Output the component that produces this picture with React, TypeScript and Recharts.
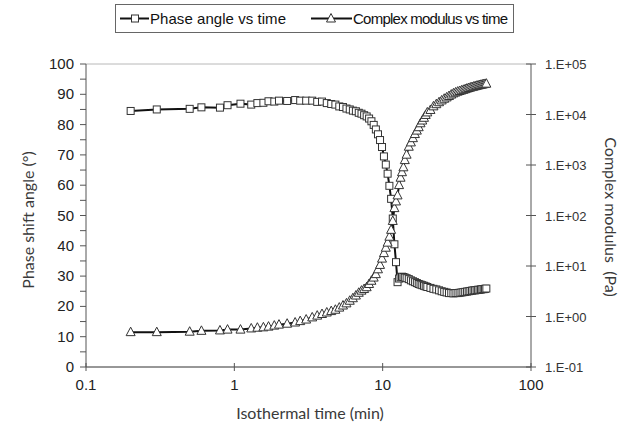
import { ComposedChart, Line, XAxis, YAxis, CartesianGrid } from 'recharts';

// isothermal time (min)
const timeMin = [
  0.2, 0.3, 0.5, 0.6, 0.8, 0.9, 1.1, 1.3, 1.43, 1.57, 1.7, 1.86, 2.0, 2.27, 2.57, 2.78, 3.05, 3.35, 3.62,
  3.9, 4.2, 4.5, 4.8, 5.1, 5.4, 5.7, 6.0, 6.3, 6.6, 6.9, 7.2, 7.5, 7.8, 8.1, 8.4, 8.7, 9.0, 9.3, 9.6,
  9.9, 10.2, 10.5, 10.8, 11.1, 11.4, 11.7, 12.0, 12.3, 12.6,
  12.9, 13.2, 13.5, 13.8, 14.1, 14.5, 15.0, 15.5, 16.0, 16.5, 17.0, 17.5, 18.0, 18.5, 19.0, 19.5,
  20, 21, 22, 23, 24, 25, 26, 27, 28, 29, 30, 31, 32, 33, 34, 35, 36, 37, 38, 39, 40,
  41, 42, 43, 44, 45, 46, 47, 48, 49, 50,
];

// phase shift angle (deg)
const phaseAngle = [
  84.5, 85.0, 85.2, 85.7, 85.6, 86.4, 86.9, 86.6, 87.1, 87.2, 87.7, 87.6, 87.9, 87.8, 88.1, 87.9, 87.9, 87.9, 87.5,
  87.6, 87.1, 86.8, 86.6, 86.0, 85.8, 85.3, 85.0, 84.6, 84.4, 83.9, 83.6, 83.1, 82.7, 82.0, 81.1, 79.9, 78.4, 76.8, 74.9,
  72.6, 69.5, 66.8, 63.8, 59.8, 55.5, 49.0, 40.5, 34.6, 28.0,
  29.2, 29.6, 29.8, 29.7, 29.5, 29.3, 29.0, 28.6, 28.3, 28.0, 27.7, 27.4, 27.2, 27.0, 26.8, 26.6,
  26.4, 26.1, 25.8, 25.6, 25.3, 25.0, 24.8, 24.6, 24.4, 24.4, 24.3, 24.4, 24.4, 24.5, 24.6, 24.7, 24.8, 24.9, 25.0, 25.1, 25.2,
  25.3, 25.3, 25.4, 25.5, 25.5, 25.6, 25.7, 25.7, 25.8, 25.9,
];

// complex modulus (Pa)
const complexModulus = [
  0.49, 0.49, 0.5, 0.52, 0.53, 0.55, 0.55, 0.58, 0.6, 0.61, 0.63, 0.66, 0.69, 0.72, 0.76, 0.81, 0.87, 0.96, 1.04,
  1.12, 1.2, 1.28, 1.36, 1.5, 1.65, 1.82, 2.05, 2.3, 2.6, 2.95, 3.25, 3.5, 3.8, 4.4, 5.1, 5.9, 6.9, 8.6, 10.5,
  14, 18, 23, 29, 38, 52, 78, 140, 190, 250,
  400, 560, 720, 900, 1250, 1600, 2300, 2800, 3400, 4100, 4800, 5600, 6700, 7600, 8600, 9800,
  11000, 12300, 14500, 16000, 17500, 19000, 20500, 21800, 23200, 24800, 26200, 27300, 28300, 29200, 30000, 30800, 31700, 32600, 33400, 34200, 34900,
  35600, 36300, 37000, 37600, 38200, 38800, 39300, 39800, 40300, 40800,
];

const xTicks = [0.1, 1, 10, 100];
const leftTicks = [0, 5, 10, 15, 20, 25, 30, 35, 40, 45, 50, 55, 60, 65, 70, 75, 80, 85, 90, 95, 100];
const gridTicks = [0, 10, 20, 30, 40, 50, 60, 70, 80, 90, 100];
const rightTicks = [0.1, 1, 10, 100, 1000, 10000, 100000];

const data = timeMin.map((t, i) => ({ t, phase: phaseAngle[i], modulus: complexModulus[i] }));

const AXIS = '#555';
const TXT = '#222';
const tickFont = { fontFamily: '"Liberation Sans", Arial, sans-serif', fontSize: 15, fill: TXT };
const titleFont = { fontFamily: 'Lato, "Open Sans", sans-serif', fontSize: 16, color: '#3a3a3a' };

const sci = (v: number) => {
  const e = Math.round(Math.log10(v));
  return `1.E${e < 0 ? '-' : '+'}${String(Math.abs(e)).padStart(2, '0')}`;
};

const XTick = ({ x, y, payload }: any) => (
  <g>
    <line x1={x} x2={x} y1={y - 4} y2={y + 4} stroke={AXIS} />
    <text x={x} y={y + 23} textAnchor="middle" {...tickFont}>{payload.value}</text>
  </g>
);

const LeftTick = ({ x, y, payload }: any) => {
  const major = payload.value % 10 === 0;
  return (
    <g>
      <line x1={x - 6} x2={x} y1={y} y2={y} stroke={AXIS} />
      {major && <text x={x - 12} y={y + 5} textAnchor="end" {...tickFont}>{payload.value}</text>}
    </g>
  );
};

const RightTick = ({ x, y, payload }: any) => (
  <g>
    <line x1={x - 5} x2={x + 5} y1={y} y2={y} stroke={AXIS} />
    <text x={x + 14} y={y + 5} textAnchor="start" {...tickFont} fontSize={13} fill="#333">{sci(payload.value)}</text>
  </g>
);

const square = (props: any) => {
  const { cx, cy, index } = props;
  if (cx == null || cy == null) return <g key={`s${index}`} />;
  return <rect key={`s${index}`} x={cx - 3.5} y={cy - 3.5} width={7} height={7} fill="#fff" stroke="#333" strokeWidth={1} />;
};

const triangle = (props: any) => {
  const { cx, cy, index } = props;
  if (cx == null || cy == null) return <g key={`t${index}`} />;
  return (
    <path
      key={`t${index}`}
      d={`M${cx},${cy - 5} L${cx + 4.5},${cy + 3.5} L${cx - 4.5},${cy + 3.5} Z`}
      fill="#fff"
      stroke="#333"
      strokeWidth={1}
    />
  );
};

const legendText = { fontFamily: '"Liberation Sans", Arial, sans-serif', fontSize: 15, fill: '#111' };

function TopLegend() {
  return (
    <svg width={632} height={40} style={{ position: 'absolute', left: 0, top: 0 }}>
      <rect x={115.5} y={4.5} width={398} height={28} fill="#fff" stroke="#666" />
      <line x1={120} x2={149} y1={18.5} y2={18.5} stroke="#111" strokeWidth={2} />
      <rect x={131.5} y={15} width={7} height={7} fill="#fff" stroke="#333" />
      <text x={150} y={24} {...legendText} textLength={136} lengthAdjust="spacing">Phase angle vs time</text>
      <line x1={311} x2={352} y1={18.5} y2={18.5} stroke="#111" strokeWidth={2} />
      <path d="M331,13.5 L335.5,22 L326.5,22 Z" fill="#fff" stroke="#333" />
      <text x={353} y={24} {...legendText} textLength={155} lengthAdjust="spacing">Complex modulus vs time</text>
    </svg>
  );
}

export default function App() {
  return (
    <div style={{ position: 'absolute', left: 0, top: 0, width: 632, height: 432, background: '#fff' }}>
      <ComposedChart width={632} height={432} data={data} margin={{ top: 64, right: 0, bottom: 0, left: 0 }}>
        <CartesianGrid yAxisId="grid" vertical={false} stroke="#b8b8b8" />
        <XAxis
          dataKey="t"
          type="number"
          scale="log"
          domain={[0.1, 100]}
          ticks={xTicks}
          allowDataOverflow
          height={65}
          tickSize={0}
          tickMargin={0}
          tick={<XTick />}
          stroke={AXIS}
        />
        <YAxis
          yAxisId="left"
          type="number"
          domain={[0, 100]}
          ticks={leftTicks}
          interval={0}
          width={86}
          tickSize={0}
          tickMargin={0}
          tick={<LeftTick />}
          stroke={AXIS}
        />
        <YAxis yAxisId="grid" type="number" domain={[0, 100]} ticks={gridTicks} width={0} hide />
        <YAxis
          yAxisId="right"
          orientation="right"
          type="number"
          scale="log"
          domain={[0.1, 100000]}
          ticks={rightTicks}
          interval={0}
          allowDataOverflow
          width={101}
          tickSize={0}
          tickMargin={0}
          tick={<RightTick />}
          stroke={AXIS}
        />
        <Line
          yAxisId="left"
          dataKey="phase"
          stroke="#111"
          strokeWidth={2}
          dot={square}
          activeDot={false}
          isAnimationActive={false}
        />
        <Line
          yAxisId="right"
          dataKey="modulus"
          stroke="#111"
          strokeWidth={2}
          dot={triangle}
          activeDot={false}
          isAnimationActive={false}
        />
      </ComposedChart>

      <TopLegend />

      <div style={{ ...titleFont, position: 'absolute', left: 27, top: 220, transform: 'translate(-50%, -50%) rotate(-90deg)', whiteSpace: 'nowrap' }}>
        Phase shift angle (°)
      </div>
      <div style={{ ...titleFont, position: 'absolute', left: 310, top: 412, transform: 'translate(-50%, -50%)', whiteSpace: 'nowrap' }}>
        Isothermal time (min)
      </div>
      <div style={{ ...titleFont, position: 'absolute', left: 611, top: 217, transform: 'translate(-50%, -50%) rotate(90deg)', whiteSpace: 'pre' }}>
        {'Complex modulus  (Pa)'}
      </div>
    </div>
  );
}
